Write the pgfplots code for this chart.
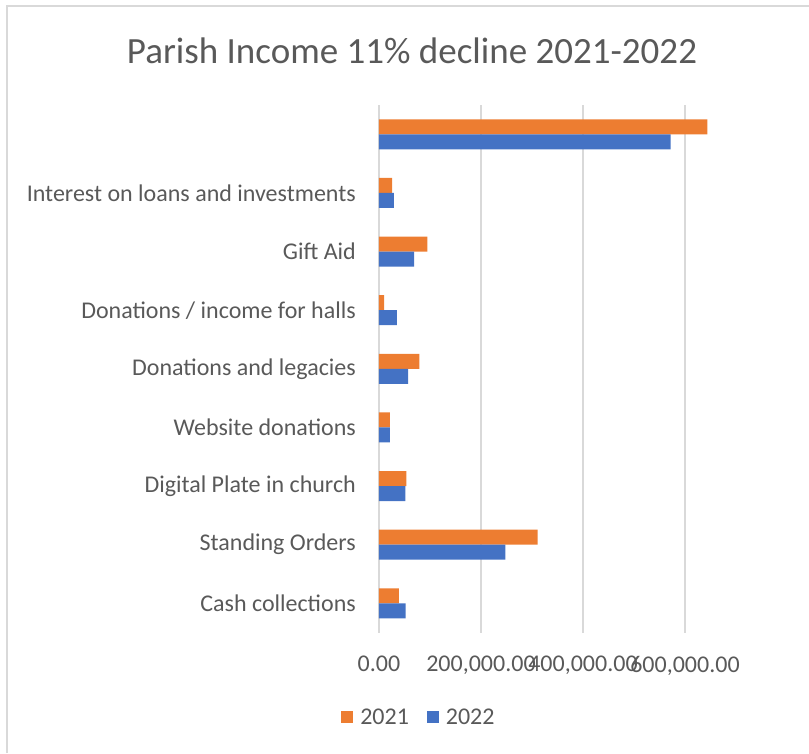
\documentclass[border=0pt]{standalone}
\usepackage{fontspec}
\setmainfont{Carlito}
\usepackage{pgfplots}
\pgfplotsset{compat=1.18}

\definecolor{xlorange}{HTML}{ED7D31}
\definecolor{xlblue}{HTML}{4472C4}
\definecolor{xltext}{HTML}{595959}
\definecolor{xlgrid}{HTML}{D9D9D9}

\begin{document}
\begin{tikzpicture}[x=1pt,y=1pt]
\useasboundingbox (0,0) rectangle (809,753);
% chart frame (only left and top edges are visible)
\draw[xlgrid, line width=1.2pt] (7,0) -- (7,747) -- (809,747);

% title
\node[text=xltext, font=\fontsize{37}{44}\selectfont] at (412,702) {Parish Income 11\% decline 2021-2022};

\begin{axis}[
	at={(379pt,120.4pt)}, anchor=south west,
	scale only axis,
	width=357pt, height=527.6pt,
	xbar,
	bar width=15pt,
	xmin=0, xmax=700000,
	ymin=-0.5, ymax=8.5,
	axis line style={draw=none},
	major tick length=0pt,
	scaled x ticks=false,
	xtick={0,200000,400000,600000},
	xticklabels={0.00,{200,000.00},{400,000.00},{600,000.00}},
	ytick={0,1,2,3,4,5,6,7,8},
	yticklabels={Cash collections, Standing Orders, Digital Plate in church,
		Website donations, Donations and legacies, Donations / income for halls,
		Gift Aid, Interest on loans and investments, {}},
	xmajorgrids=true,
	grid style={xlgrid, line width=1.2pt},
	tick label style={text=xltext, font=\fontsize{24}{28}\selectfont, inner sep=0pt},
	xticklabel style={anchor=north, yshift=-23pt},
	yticklabel style={anchor=east, xshift=-23pt},
	legend columns=2,
	legend style={at={(0.109,-0.16)}, anchor=center, draw=none, fill=none,
		font=\fontsize{24}{28}\selectfont, text=xltext,
		nodes={inner sep=0pt},
		column sep=7pt,
		/tikz/every even column/.append style={column sep=18pt}},
	legend image code/.code={\fill[#1,draw=none] (0pt,-6pt) rectangle (12pt,6pt);},
]

% 2021 (upper bar in each pair)
\addplot[fill=xlorange, draw=none, bar shift=7.5pt] coordinates {
	(39000,0)
	(311000,1)
	(53600,2)
	(21500,3)
	(79000,4)
	(10000,5)
	(95000,6)
	(25500,7)
	(644000,8)
};
\addlegendentry{2021}

% 2022 (lower bar)
\addplot[fill=xlblue, draw=none, bar shift=-7.5pt] coordinates {
	(52000,0)
	(248000,1)
	(51700,2)
	(21500,3)
	(57000,4)
	(35000,5)
	(69000,6)
	(29000,7)
	(572000,8)
};
\addlegendentry{2022}

\end{axis}
\end{tikzpicture}
\end{document}
